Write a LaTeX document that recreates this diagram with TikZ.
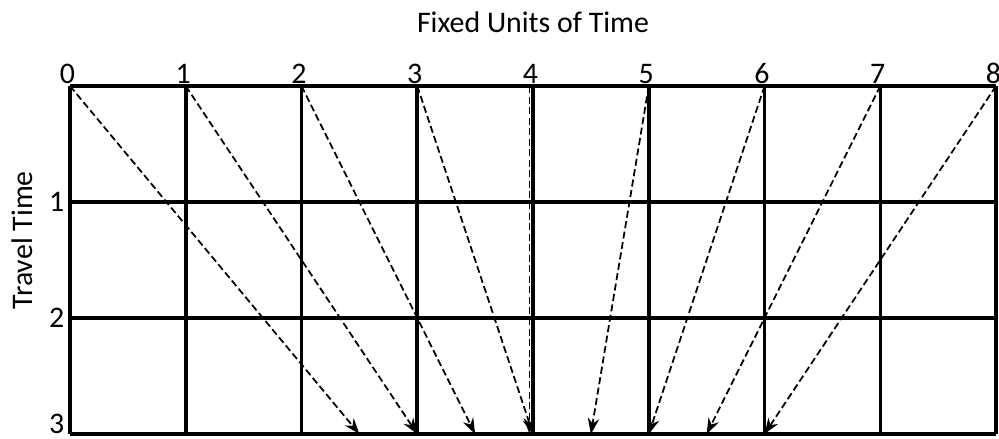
\documentclass[tikz,border=0pt]{standalone}
\usepackage{fontspec}
\setmainfont{Carlito}
\usetikzlibrary{arrows.meta}

\tikzset{
  gridline/.style={line width=2pt},
  travel/.style={dash pattern=on 4pt off 2pt, line width=1pt, -{Stealth[length=9pt,width=6.5pt]}},
  ticklabel/.style={font=\fontsize{17}{19}\selectfont, inner sep=1pt}
}

\begin{document}
\begin{tikzpicture}[x=2.315cm, y=2.32cm]
  \useasboundingbox (-1.40cm,-7.06cm) rectangle (18.58cm,1.72cm);

  % grid
  \foreach \i in {0,...,8} {
    \coordinate (t\i) at (\i,0);
    \draw[gridline] (\i,0) -- (\i,-3);
    \node[ticklabel, anchor=south, xshift=-1.5pt] (col\i) at (t\i) {\i};
  }
  \foreach \j in {0,...,3}
    \draw[gridline] (0,-\j) -- (8,-\j);
  \foreach \j/\s in {1/0pt,2/0pt,3/6pt}
    \node[ticklabel, anchor=east, inner sep=3pt, yshift=\s] (row\j) at (0,-\j) {\j};

  % arrival points on the bottom line
  \foreach \k/\x in {a/2.5,b/3,c/3.5,d/4,e/4.5,f/5,g/5.5,h/6}
    \coordinate (b\k) at (\x,-3);

  % trips
  \foreach \i/\k in {0/a,1/b,2/c,3/d,5/e,6/f,7/g,8/h}
    \draw[travel] (t\i) -- (b\k);
  \draw[travel] ([xshift=-2pt]t4) -- ([xshift=-2pt]bd);

  \node[font=\fontsize{17}{20}\selectfont] (title) at (4,0.55) {Fixed Units of Time};
  \node[font=\fontsize{17}{20}\selectfont, rotate=90] (ylab) at (-0.415,-1.33) {Travel Time};
\end{tikzpicture}
\end{document}
